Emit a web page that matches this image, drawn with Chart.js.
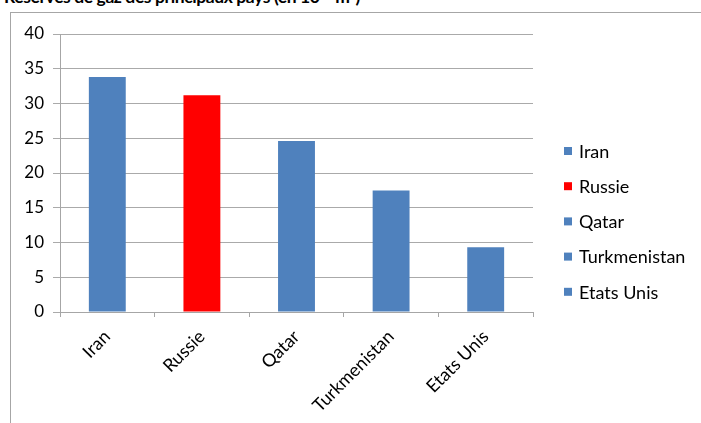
<!DOCTYPE html>
<html>
<head>
<meta charset="utf-8">
<script src="https://cdn.jsdelivr.net/npm/chart.js@4.4.1/dist/chart.umd.min.js"></script>
<style>
  html, body { margin: 0; padding: 0; background: #fff; overflow: hidden; }
  #wrap { position: relative; width: 701px; height: 423px; overflow: hidden; }
  #title { position: absolute; left: 4px; top: -15px; font: bold 17.5px Lato, sans-serif; letter-spacing: -0.4px; color: #000; white-space: nowrap; }
  #frame { position: absolute; left: 10px; top: 12px; width: 720px; height: 440px; border: 1px solid #a6a6a6; box-sizing: border-box; }
  canvas { position: absolute; left: 0; top: 0; }
</style>
</head>
<body>
<div id="wrap">
  <div id="title">Réserves de gaz des principaux pays (en 10<sup style="font-size:11px">12</sup> m<sup style="font-size:11px">3</sup>)</div>
  <div id="frame"></div>
  <canvas id="c" width="701" height="423"></canvas>
</div>
<script>
// Proven natural gas reserves by country, in trillions of cubic metres
const countries = ['Iran', 'Russie', 'Qatar', 'Turkmenistan', 'Etats Unis'];
const reserves = [33.8, 31.2, 24.6, 17.5, 9.3];
const barColors = ['#4F81BD', '#FF0000', '#4F81BD', '#4F81BD', '#4F81BD'];
const yTicks = [0, 5, 10, 15, 20, 25, 30, 35, 40];

const FONT = 'Lato, sans-serif';

// Legend listing each country with its bar colour, drawn to the right of the plot
const sideLegend = {
  id: 'sideLegend',
  afterDraw(chart) {
    const ctx = chart.ctx;
    const meta = chart.getDatasetMeta(0);
    ctx.save();
    ctx.font = '18px ' + FONT;
    ctx.textBaseline = 'middle';
    ctx.textAlign = 'left';
    const top = 151, step = 35.2;
    meta.data.forEach((bar, i) => {
      const y = top + i * step;
      ctx.fillStyle = barColors[i];
      ctx.fillRect(564, y - 4, 8, 8);
      ctx.fillStyle = '#000';
      ctx.fillText(countries[i], 579, y + 1);
    });
    ctx.restore();
  }
};

new Chart(document.getElementById('c'), {
  type: 'bar',
  data: {
    labels: countries,
    datasets: [{
      data: reserves,
      backgroundColor: barColors,
      borderWidth: 0,
      barPercentage: 0.39,
      categoryPercentage: 1
    }]
  },
  options: {
    responsive: false,
    animation: false,
    events: [],
    layout: { padding: { top: 34, right: 168, left: 0, bottom: 0 } },
    plugins: { legend: { display: false }, title: { display: false }, tooltip: { enabled: false } },
    scales: {
      x: {
        offset: true,
        grid: { offset: true, drawOnChartArea: false, tickLength: 5, color: '#a6a6a6' },
        border: { color: '#a6a6a6' },
        ticks: { color: '#000', font: { family: FONT, size: 18 }, minRotation: 45, maxRotation: 45, padding: 9 },
        afterFit(scale) { scale.height = 111; }
      },
      y: {
        min: 0, max: 40,
        afterBuildTicks(scale) { scale.ticks = yTicks.map(v => ({ value: v })); },
        grid: { color: '#aaaaaa', tickLength: 7 },
        border: { color: '#a6a6a6' },
        ticks: { color: '#000', font: { family: FONT, size: 17 }, padding: 9 },
        afterFit(scale) { scale.width = 60; }
      }
    }
  },
  plugins: [sideLegend]
});
</script>
</body>
</html>
